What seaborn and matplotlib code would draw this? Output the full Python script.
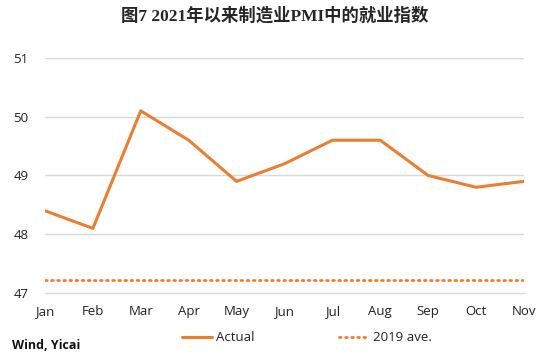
import numpy as np
import pandas as pd
import matplotlib
matplotlib.use("Agg")
import matplotlib.pyplot as plt
import seaborn as sns

# --- data ---
months = ["Jan", "Feb", "Mar", "Apr", "May", "Jun", "Jul", "Aug", "Sep", "Oct", "Nov"]
actual = [48.4, 48.1, 50.1, 49.6, 48.9, 49.2, 49.6, 49.6, 49.0, 48.8, 48.9]
avg_2019 = 47.23
y_ticks = [47, 48, 49, 50, 51]

ORANGE = "#ED7D31"
GRID = "#D9D9D9"

sns.set_style("white")
plt.rcParams["font.family"] = ["Open Sans", "DejaVu Sans"]

df = pd.DataFrame({
    "month": months,
    "x": np.arange(len(months)),
    "Actual": actual,
    "2019 ave.": [avg_2019] * len(months),
})

fig = plt.figure(figsize=(5.5, 3.6), dpi=100)
ax = fig.add_axes([0.0818, 0.186, 0.8709, 0.653])

sns.lineplot(data=df, x="x", y="Actual", ax=ax, color=ORANGE, linewidth=2.2,
             label="Actual")
sns.lineplot(data=df, x="x", y="2019 ave.", ax=ax, color=ORANGE, linewidth=2.0,
             linestyle=(0, (0.6, 1.6)), dash_capstyle="round", label="2019 ave.")

ax.set_xlim(0, len(months) - 1)
ax.set_ylim(47, 51)
ax.set_yticks(y_ticks)
ax.set_yticklabels([str(t) for t in y_ticks], fontsize=9.5, color="#222222")
ax.set_xticks(df["x"])
ax.set_xticklabels(months, fontsize=9.5, color="#222222")
ax.set_xlabel("")
ax.set_ylabel("")

for t in y_ticks[1:]:
    ax.axhline(t, color=GRID, linewidth=1.0, zorder=0)

for s in ["top", "right", "left"]:
    ax.spines[s].set_visible(False)
ax.spines["bottom"].set_color(GRID)
ax.spines["bottom"].set_linewidth(1.0)
ax.tick_params(axis="x", direction="inout", length=7, width=1.0, color=GRID, pad=5)
ax.tick_params(axis="y", length=0, pad=12)

leg = ax.legend(loc="center", bbox_to_anchor=(0.547, -0.19), ncol=2,
                frameon=False, fontsize=9.5, handlelength=2.3, handletextpad=0.3,
                columnspacing=6.4)
for txt in leg.get_texts():
    txt.set_color("#222222")

fig.text(0.5, 0.955, "图7 2021年以来制造业PMI中的就业指数", ha="center", va="center",
         fontsize=12.5, fontweight="bold",
         family=["Liberation Serif", "Noto Sans CJK SC"])
fig.text(0.022, 0.04, "Wind, Yicai", ha="left", va="center", fontsize=9,
         fontweight="bold", color="#111111")

fig.savefig("out.png", dpi=100)
